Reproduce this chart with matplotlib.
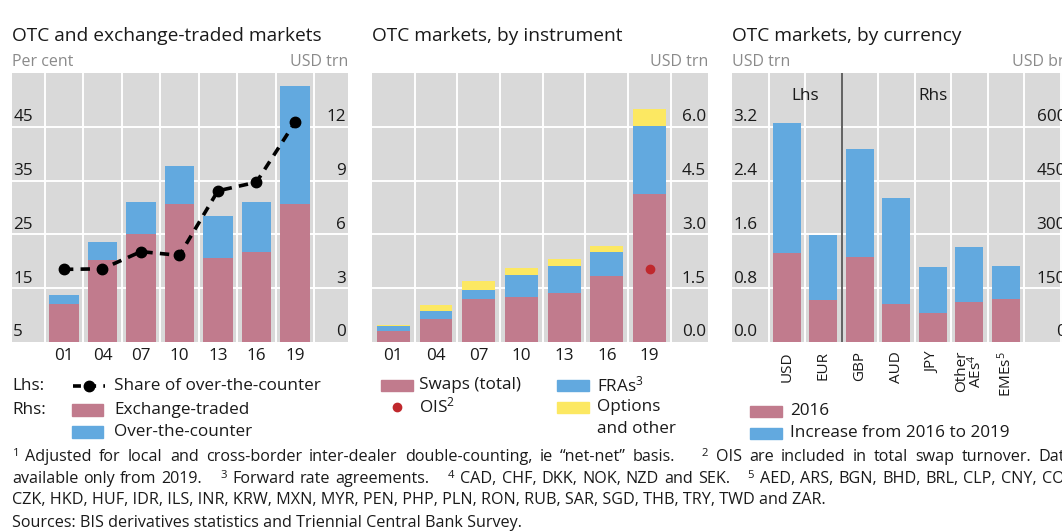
import matplotlib
matplotlib.use("Agg")
import matplotlib.pyplot as plt
import matplotlib.transforms as mtransforms
from matplotlib.patches import Rectangle
from matplotlib.lines import Line2D
import numpy as np

# ---------------- data ----------------
years = ['01', '04', '07', '10', '13', '16', '19']
exchange_traded = [2.1, 4.55, 6.0, 7.7, 4.67, 5.0, 7.7]          # USD trn (rhs)
over_the_counter = [0.5, 1.0, 1.8, 2.13, 2.33, 2.8, 6.6]         # USD trn (rhs)
otc_share = [18.5, 18.6, 21.8, 21.1, 33.1, 34.7, 45.8]           # per cent (lhs)

swaps_total = [0.31, 0.64, 1.19, 1.26, 1.37, 1.83, 4.13]         # USD trn
fras = [0.13, 0.22, 0.27, 0.60, 0.75, 0.68, 1.90]
options_other = [0.03, 0.17, 0.23, 0.21, 0.19, 0.17, 0.48]
ois_2019 = 2.04

currencies_lhs = ['USD', 'EUR']
lhs_2016 = [1.33, 0.62]                 # USD trn
lhs_increase = [1.93, 0.965]
currencies_rhs = ['GBP', 'AUD', 'JPY', 'Other\nAEs$^4$', 'EMEs$^5$']
rhs_2016 = [237, 106, 80, 112, 119]     # USD bn
rhs_increase = [301, 295, 129, 153, 93]

p1_left_ticks = [5, 15, 25, 35, 45]
p1_right_ticks = [0, 3, 6, 9, 12]
p2_ticks = [0.0, 1.5, 3.0, 4.5, 6.0]
p3_left_ticks = [0.0, 0.8, 1.6, 2.4, 3.2]
p3_right_ticks = [0, 150, 300, 450, 600]

# ---------------- style ----------------
PINK = '#c17b8d'
BLUE = '#62a9df'
YELLOW = '#fce862'
BG = '#d9d9d9'
RED = '#c0282d'
TXT = '#1a1a1a'
GREY = '#8a8a8a'
FONT = ['Open Sans', 'DejaVu Sans']
plt.rcParams['font.family'] = FONT
plt.rcParams['mathtext.fontset'] = 'custom'
plt.rcParams['mathtext.rm'] = 'Open Sans'
plt.rcParams['mathtext.it'] = 'Open Sans'
plt.rcParams['mathtext.bf'] = 'Open Sans'

TF = 13.8    # titles
KF = 12.3    # tick labels
UF = 11.5    # unit labels
LF = 12.3    # legend
FF = 11.6    # footnotes

W, H = 1062, 532
fig = plt.figure(figsize=(W / 100, H / 100), dpi=100)
fig.patch.set_facecolor('white')


def fx(px):
    return px / W


def fy(py):
    return 1 - py / H


def add_axes(l, r, t, b):
    return fig.add_axes([fx(l), fy(b), fx(r) - fx(l), (b - t) / H])


def style_ax(ax, xlim, ylim, vgrid, hgrid):
    ax.set_facecolor(BG)
    ax.set_xlim(*xlim)
    ax.set_ylim(*ylim)
    for s in ax.spines.values():
        s.set_visible(False)
    ax.set_xticks([])
    ax.set_yticks([])
    for v in vgrid:
        ax.axvline(v, color='white', lw=1.4, zorder=0.5)
    for h in hgrid:
        ax.axhline(h, color='white', lw=1.4, zorder=0.5)


def ylabels(ax, vals, fmt, side):
    tr = mtransforms.blended_transform_factory(ax.transAxes, ax.transData)
    off = mtransforms.offset_copy(tr, fig=fig, x=0, y=1.2, units='points')
    for v in vals:
        if side == 'left':
            ax.text(0.004, v, fmt.format(v), transform=off, ha='left', va='bottom',
                    fontsize=KF, color=TXT, zorder=5)
        else:
            ax.text(0.994, v, fmt.format(v), transform=off, ha='right', va='bottom',
                    fontsize=KF, color=TXT, zorder=5)


TOP, BOT = 73, 342
BW = 0.77

# ---------------- panel 1 ----------------
ax1 = add_axes(12, 348, TOP, BOT)
x1 = np.arange(len(years))
style_ax(ax1, (-1.35, 7.38), (0, 15), np.arange(-0.5, 7.0, 1.0), p1_right_ticks[1:])
ax1.bar(x1, exchange_traded, width=BW, color=PINK, zorder=2)
ax1.bar(x1, over_the_counter, bottom=exchange_traded, width=BW, color=BLUE, zorder=2)
ax1b = ax1.twinx()
ax1b.set_ylim(5, 55)
ax1b.set_xlim(-1.35, 7.38)
ax1b.axis('off')
ax1b.plot(x1, otc_share, color='black', lw=2.6, dashes=(2.6, 2.0), marker='o',
          markersize=7.5, zorder=4)
ylabels(ax1, p1_right_ticks, '{:d}', 'right')
ylabels(ax1b, p1_left_ticks, '{:d}', 'left')
for i, y in enumerate(years):
    fig.text(fx(ax1.transData.transform((x1[i], 0))[0]), fy(356), y, ha='center',
             va='center', fontsize=KF, color=TXT)

# ---------------- panel 2 ----------------
ax2 = add_axes(372, 708, TOP, BOT)
x2 = np.arange(len(years))
style_ax(ax2, (-0.5, 7.37), (0, 7.5), np.arange(0.5, 7.0, 1.0), p2_ticks[1:])
ax2.bar(x2, swaps_total, width=BW, color=PINK, zorder=2)
b2 = np.array(swaps_total)
ax2.bar(x2, fras, bottom=b2, width=BW, color=BLUE, zorder=2)
b2 = b2 + np.array(fras)
ax2.bar(x2, options_other, bottom=b2, width=BW, color=YELLOW, zorder=2)
ax2.plot([x2[-1]], [ois_2019], 'o', color=RED, markersize=6, zorder=4)
ylabels(ax2, p2_ticks, '{:.1f}', 'right')
for i, y in enumerate(years):
    fig.text(fx(ax2.transData.transform((x2[i], 0))[0]), fy(356), y, ha='center',
             va='center', fontsize=KF, color=TXT)

# ---------------- panel 3 ----------------
ax3 = add_axes(732, 1068, TOP, BOT)
n_l = len(currencies_lhs)
n_r = len(currencies_rhs)
x3l = np.arange(n_l)
x3r = np.arange(n_l, n_l + n_r)
style_ax(ax3, (-1.5, 7.7), (0, 4.0), np.arange(-0.5, 8.0, 1.0), p3_left_ticks[1:])
ax3.bar(x3l, lhs_2016, width=BW, color=PINK, zorder=2)
ax3.bar(x3l, lhs_increase, bottom=lhs_2016, width=BW, color=BLUE, zorder=2)
ax3b = ax3.twinx()
ax3b.set_ylim(0, 750)
ax3b.set_xlim(-1.5, 7.7)
ax3b.axis('off')
ax3b.bar(x3r, rhs_2016, width=BW, color=PINK, zorder=2)
ax3b.bar(x3r, rhs_increase, bottom=rhs_2016, width=BW, color=BLUE, zorder=2)
ax3.axvline(n_l - 0.5, color='#555555', lw=1.3, zorder=3)
ax3.text((n_l - 1) / 2, 3.66, 'Lhs', ha='center', va='center', fontsize=KF, color=TXT)
ax3.text(n_l + (n_r - 1) / 2, 3.66, 'Rhs', ha='center', va='center', fontsize=KF, color=TXT)
ylabels(ax3, p3_left_ticks, '{:.1f}', 'left')
ylabels(ax3b, p3_right_ticks, '{:d}', 'right')
for xi, lab in zip(list(x3l) + list(x3r), currencies_lhs + currencies_rhs):
    fig.text(fx(ax3.transData.transform((xi, 0))[0]), fy(351), lab, ha='center',
             va='top', rotation=90, fontsize=11, color=TXT, linespacing=0.8,
             multialignment='center')

# ---------------- titles & units ----------------
for xl, t in [(12, 'OTC and exchange-traded markets'), (372, 'OTC markets, by instrument'),
              (732, 'OTC markets, by currency')]:
    fig.text(fx(xl), fy(36), t, ha='left', va='center', fontsize=TF, color=TXT)
fig.text(fx(12), fy(62), 'Per cent', ha='left', va='center', fontsize=UF, color=GREY)
fig.text(fx(348), fy(62), 'USD trn', ha='right', va='center', fontsize=UF, color=GREY)
fig.text(fx(708), fy(62), 'USD trn', ha='right', va='center', fontsize=UF, color=GREY)
fig.text(fx(732), fy(62), 'USD trn', ha='left', va='center', fontsize=UF, color=GREY)
fig.text(fx(1068), fy(62), 'USD bn', ha='right', va='center', fontsize=UF, color=GREY)


# ---------------- legends ----------------
def patch(l, r, t, b, c):
    fig.patches.append(Rectangle((fx(l), fy(b)), fx(r) - fx(l), (b - t) / H,
                                 transform=fig.transFigure, color=c, figure=fig))


fig.text(fx(12), fy(386), 'Lhs:', ha='left', va='center', fontsize=LF, color=TXT)
fig.lines.append(Line2D([fx(73), fx(105)], [fy(386), fy(386)], transform=fig.transFigure,
                        color='black', lw=2.6, dashes=(2.2, 2.0), figure=fig))
fig.lines.append(Line2D([fx(89)], [fy(386)], transform=fig.transFigure, color='black',
                        marker='o', markersize=7.5, figure=fig))
fig.text(fx(114), fy(386), 'Share of over-the-counter', ha='left', va='center', fontsize=LF, color=TXT)
fig.text(fx(12), fy(410), 'Rhs:', ha='left', va='center', fontsize=LF, color=TXT)
patch(72, 103, 404, 416, PINK)
fig.text(fx(114), fy(410), 'Exchange-traded', ha='left', va='center', fontsize=LF, color=TXT)
patch(72, 103, 426, 438, BLUE)
fig.text(fx(114), fy(432), 'Over-the-counter', ha='left', va='center', fontsize=LF, color=TXT)

patch(381, 413, 380, 391, PINK)
fig.text(fx(419), fy(385), 'Swaps (total)', ha='left', va='center', fontsize=LF, color=TXT)
fig.lines.append(Line2D([fx(397)], [fy(407)], transform=fig.transFigure, color=RED,
                        marker='o', markersize=6, figure=fig))
fig.text(fx(419), fy(406), 'OIS$^2$', ha='left', va='center', fontsize=LF, color=TXT)
patch(557, 589, 380, 391, BLUE)
fig.text(fx(597), fy(385), 'FRAs$^3$', ha='left', va='center', fontsize=LF, color=TXT)
patch(557, 589, 402, 413, YELLOW)
fig.text(fx(597), fy(407), 'Options', ha='left', va='center', fontsize=LF, color=TXT)
fig.text(fx(597), fy(429), 'and other', ha='left', va='center', fontsize=LF, color=TXT)

patch(750, 782, 406, 417, PINK)
fig.text(fx(790), fy(411), '2016', ha='left', va='center', fontsize=LF, color=TXT)
patch(750, 782, 428, 439, BLUE)
fig.text(fx(790), fy(433), 'Increase from 2016 to 2019', ha='left', va='center', fontsize=LF, color=TXT)

# ---------------- footnotes ----------------
# justified lines: list of segments; '||' marks a wider gap between footnotes
line1 = ('$^1$ Adjusted for local and cross-border inter-dealer double-counting, ie '
         '\u201cnet-net\u201d basis. || $^2$ OIS are included in total swap turnover. Data')
line2 = ('available only from 2019. || $^3$ Forward rate agreements. || $^4$ CAD, CHF, DKK, '
         'NOK, NZD and SEK. || $^5$ AED, ARS, BGN, BHD, BRL, CLP, CNY, COP,')
line3 = 'CZK, HKD, HUF, IDR, ILS, INR, KRW, MXN, MYR, PEN, PHP, PLN, RON, RUB, SAR, SGD, THB, TRY, TWD and ZAR.'
line4 = 'Sources: BIS derivatives statistics and Triennial Central Bank Survey.'

renderer = fig.canvas.get_renderer()


def justified(text, ypx, x0, x1):
    toks = text.split(' ')
    words, weights = [], []
    w = 1.0
    for t in toks:
        if t == '||':
            w = 3.5
            continue
        words.append(t)
        weights.append(w)
        w = 1.0
    arts = [fig.text(0, fy(ypx), wd, ha='left', va='center', fontsize=FF, color=TXT) for wd in words]
    widths = [a.get_window_extent(renderer).width for a in arts]
    total_gap = (x1 - x0) - sum(widths)
    wsum = sum(weights[1:])
    unit = total_gap / wsum
    x = x0
    for i, a in enumerate(arts):
        if i > 0:
            x += weights[i] * unit
        a.set_x(fx(x))
        x += widths[i]


justified(line1, 457, 12, 1074)
justified(line2, 479, 12, 1078)
fig.text(fx(12), fy(500), line3, ha='left', va='center', fontsize=FF, color=TXT)
fig.text(fx(12), fy(523), line4, ha='left', va='center', fontsize=FF, color=TXT)

fig.savefig('out.png', dpi=100)
